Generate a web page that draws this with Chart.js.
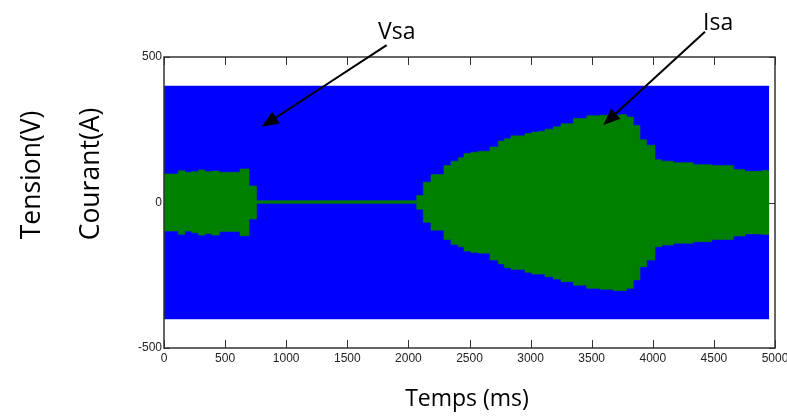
<!DOCTYPE html>
<html>
<head>
<meta charset="utf-8">
<script src="https://cdn.jsdelivr.net/npm/chart.js@4.4.1/dist/chart.umd.min.js"></script>
<style>
  html, body { margin: 0; padding: 0; background: #fff; }
  #wrap { width: 787px; height: 416px; position: relative; }
</style>
</head>
<body>
<div id="wrap"><canvas id="c" width="787" height="416"></canvas></div>
<script>
// ---- data ----
const xTicks = [0, 500, 1000, 1500, 2000, 2500, 3000, 3500, 4000, 4500, 5000];
const yTicks = [-500, 0, 500];

// Vsa : supply voltage envelope (V)
const vsaTime  = [0, 4953];
const vsaUpper = [400, 400];
const vsaLower = [-400, -400];

// Isa : supply current envelope (A), stepped
const isaTime  = [0, 117, 172, 226, 281, 336, 390, 453, 622, 696, 758, 2068, 2122, 2185, 2291, 2349, 2409, 2455, 2512, 2572, 2668, 2736, 2785, 2840, 2954, 3009, 3063, 3118, 3186, 3249, 3350, 3459, 3568, 3677, 3732, 3786, 3841, 3895, 3950, 4018, 4073, 4168, 4332, 4482, 4659, 4755, 4891, 4953];
const isaUpper = [98, 109, 104, 106, 112, 106, 108, 104, 115, 57, 6, 24, 70, 96, 127, 142, 154, 168, 173, 176, 191, 211, 219, 229, 237, 242, 245, 252, 260, 271, 289, 298, 300, 300, 302, 294, 265, 216, 197, 147, 142, 137, 130, 127, 113, 107, 110, 110];
const isaLower = [-98, -109, -98, -104, -112, -107, -112, -100, -114, -57, -3, -23, -68, -95, -127, -144, -152, -167, -172, -174, -198, -211, -224, -230, -240, -246, -246, -255, -263, -272, -284, -295, -298, -303, -303, -295, -266, -221, -198, -152, -146, -140, -135, -127, -115, -108, -110, -110];

// text labels
const labels = { vsa: 'Vsa', isa: 'Isa', yLeft: 'Tension(V)', yRight: 'Courant(A)', x: 'Temps (ms)' };

// ---- build ----
const pts = (xs, ys) => xs.map((x, i) => ({ x: x, y: ys[i] }));
const BLUE = '#0000ff', GREEN = '#007f00';

const annot = {
  vsa: { text: [1751, 562], from: [1822, 541], to: [800, 260] },
  isa: { text: [4411, 593], from: [4427, 587], to: [3595, 266] }
};

function arrow(ctx, x1, y1, x2, y2) {
  const ang = Math.atan2(y2 - y1, x2 - x1);
  const L = 17, W = 7;
  const bx = x2 - L * Math.cos(ang), by = y2 - L * Math.sin(ang);
  ctx.beginPath();
  ctx.moveTo(x1, y1); ctx.lineTo(bx, by);
  ctx.strokeStyle = '#000'; ctx.lineWidth = 2; ctx.stroke();
  ctx.beginPath();
  ctx.moveTo(x2, y2);
  ctx.lineTo(bx + W * Math.sin(ang), by - W * Math.cos(ang));
  ctx.lineTo(bx - W * Math.sin(ang), by + W * Math.cos(ang));
  ctx.closePath(); ctx.fillStyle = '#000'; ctx.fill();
}

const deco = {
  id: 'deco',
  beforeDatasetsDraw(chart) {
    const { ctx, chartArea: a, scales: { x, y } } = chart;
    ctx.save();
    ctx.strokeStyle = '#333'; ctx.lineWidth = 1;
    xTicks.forEach(t => {
      const px = Math.round(x.getPixelForValue(t)) + 0.5;
      ctx.beginPath();
      ctx.moveTo(px, a.bottom); ctx.lineTo(px, a.bottom - 8);
      ctx.moveTo(px, a.top); ctx.lineTo(px, a.top + 8);
      ctx.stroke();
    });
    yTicks.forEach(v => {
      const py = Math.round(y.getPixelForValue(v)) + 0.5;
      ctx.beginPath();
      ctx.moveTo(a.left, py); ctx.lineTo(a.left + 6, py);
      ctx.moveTo(a.right, py); ctx.lineTo(a.right - 6, py);
      ctx.stroke();
    });
    ctx.restore();
  },
  afterDatasetsDraw(chart) {
    const { ctx, chartArea: a } = chart;
    ctx.save();
    ctx.strokeStyle = '#333'; ctx.lineWidth = 1.5;
    ctx.strokeRect(a.left, a.top, a.right - a.left, a.bottom - a.top);
    ctx.restore();
  },
  afterDraw(chart) {
    const { ctx, scales: { x, y } } = chart;
    ctx.save();
    ctx.fillStyle = '#000';
    ctx.textBaseline = 'alphabetic';
    ctx.font = '23px "Open Sans"';
    ctx.textAlign = 'left';
    for (const k of ['vsa', 'isa']) {
      const an = annot[k];
      arrow(ctx, x.getPixelForValue(an.from[0]), y.getPixelForValue(an.from[1]),
                 x.getPixelForValue(an.to[0]), y.getPixelForValue(an.to[1]));
      ctx.fillText(labels[k], x.getPixelForValue(an.text[0]), y.getPixelForValue(an.text[1]));
    }
    ctx.textAlign = 'center';
    ctx.font = '23px "Open Sans"';
    ctx.fillText(labels.x, 467, 406);
    ctx.font = '26.5px "Open Sans"';
    ctx.save(); ctx.translate(40, 175); ctx.rotate(-Math.PI / 2); ctx.fillText(labels.yLeft, 0, 0); ctx.restore();
    ctx.save(); ctx.translate(99, 174); ctx.rotate(-Math.PI / 2); ctx.fillText(labels.yRight, 0, 0); ctx.restore();
    ctx.restore();
  }
};

const base = { pointRadius: 0, borderWidth: 0.6, tension: 0 };
new Chart(document.getElementById('c'), {
  type: 'line',
  data: {
    datasets: [
      Object.assign({ data: pts(isaTime, isaUpper), borderColor: GREEN, backgroundColor: GREEN, fill: '+1', stepped: 'before', order: 1 }, base),
      Object.assign({ data: pts(isaTime, isaLower), borderColor: GREEN, backgroundColor: GREEN, fill: false, stepped: 'before', order: 1 }, base),
      Object.assign({ data: pts(vsaTime, vsaUpper), borderColor: BLUE, backgroundColor: BLUE, fill: '+1', order: 2 }, base),
      Object.assign({ data: pts(vsaTime, vsaLower), borderColor: BLUE, backgroundColor: BLUE, fill: false, order: 2 }, base)
    ]
  },
  options: {
    responsive: false,
    animation: false,
    events: [],
    layout: { padding: { top: 57, right: 12, left: 0, bottom: 0 } },
    plugins: { legend: { display: false }, tooltip: { enabled: false } },
    scales: {
      x: {
        type: 'linear', min: 0, max: 5000,
        afterBuildTicks: s => { s.ticks = xTicks.map(v => ({ value: v })); },
        afterFit: s => { s.height = 68; s.paddingLeft = 0; s.paddingRight = 0; },
        grid: { display: false, drawTicks: false },
        border: { display: false },
        ticks: { font: { family: 'Liberation Sans', size: 12 }, color: '#222', padding: 3, maxRotation: 0, autoSkip: false,
                 callback: v => String(v) }
      },
      y: {
        type: 'linear', min: -500, max: 500,
        afterBuildTicks: s => { s.ticks = yTicks.map(v => ({ value: v })); },
        afterFit: s => { s.width = 164; s.paddingTop = 0; s.paddingBottom = 0; },
        grid: { display: false, drawTicks: false },
        border: { display: false },
        ticks: { font: { family: 'Liberation Sans', size: 12 }, color: '#222', padding: 2, callback: v => String(v) }
      }
    }
  },
  plugins: [deco]
});
</script>
</body>
</html>
